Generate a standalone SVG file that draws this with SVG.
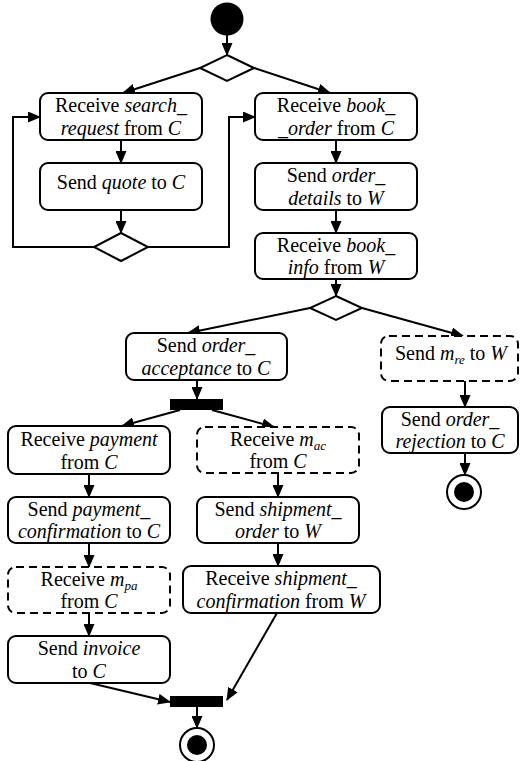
<svg xmlns="http://www.w3.org/2000/svg" width="520" height="761" viewBox="0 0 520 761">
<style>
.box{fill:#fff;stroke:#000;stroke-width:2}
.dash{stroke-dasharray:8,5}
.dec{fill:#fff;stroke:#000;stroke-width:2}
.bar{fill:#000}
.c{fill:none;stroke:#000;stroke-width:2}
.t{font-family:"Liberation Serif","Times New Roman",serif;font-size:20px;fill:#000;text-anchor:middle}
.i{font-style:italic}
.s{font-size:13px;font-style:italic}
</style>
<defs>
<marker id="ah" markerWidth="13" markerHeight="11" refX="12" refY="5.5" orient="auto" markerUnits="userSpaceOnUse">
<path d="M0,0 L13,5.5 L0,11 z" fill="#000"/>
</marker>
</defs>
<rect width="520" height="761" fill="#fff"/>
<g id="connectors">
<line class="c" x1="227" y1="35" x2="227" y2="55" marker-end="url(#ah)"/>
<line class="c" x1="200" y1="68" x2="123" y2="93" marker-end="url(#ah)"/>
<line class="c" x1="254" y1="68" x2="330" y2="93" marker-end="url(#ah)"/>
<line class="c" x1="121" y1="140" x2="121" y2="163" marker-end="url(#ah)"/>
<line class="c" x1="121" y1="210" x2="121" y2="233" marker-end="url(#ah)"/>
<polyline class="c" points="94,247 13,247 13,117 40,117" marker-end="url(#ah)"/>
<polyline class="c" points="148,247 229,247 229,117 255,117" marker-end="url(#ah)"/>
<line class="c" x1="336" y1="140" x2="336" y2="163" marker-end="url(#ah)"/>
<line class="c" x1="336" y1="210" x2="336" y2="233" marker-end="url(#ah)"/>
<line class="c" x1="336" y1="279" x2="336" y2="296" marker-end="url(#ah)"/>
<line class="c" x1="310" y1="308" x2="188" y2="333" marker-end="url(#ah)"/>
<line class="c" x1="362" y1="308" x2="463" y2="336" marker-end="url(#ah)"/>
<line class="c" x1="465" y1="381" x2="465" y2="407" marker-end="url(#ah)"/>
<line class="c" x1="465" y1="453" x2="465" y2="475" marker-end="url(#ah)"/>
<line class="c" x1="197" y1="380" x2="197" y2="399" marker-end="url(#ah)"/>
<line class="c" x1="180" y1="410" x2="122" y2="426" marker-end="url(#ah)"/>
<line class="c" x1="212" y1="410" x2="274" y2="427" marker-end="url(#ah)"/>
<line class="c" x1="89" y1="474" x2="89" y2="497" marker-end="url(#ah)"/>
<line class="c" x1="89" y1="543" x2="89" y2="567" marker-end="url(#ah)"/>
<line class="c" x1="89" y1="613" x2="89" y2="636" marker-end="url(#ah)"/>
<line class="c" x1="278" y1="473" x2="278" y2="497" marker-end="url(#ah)"/>
<line class="c" x1="278" y1="543" x2="278" y2="566" marker-end="url(#ah)"/>
<line class="c" x1="277" y1="613" x2="227" y2="700" marker-end="url(#ah)"/>
<line class="c" x1="90" y1="683" x2="170" y2="702" marker-end="url(#ah)"/>
<line class="c" x1="197" y1="707" x2="197" y2="728" marker-end="url(#ah)"/>
</g>
<g id="start"><circle cx="227" cy="19" r="16.5" fill="#000"/></g>
<g id="dec1"><polygon class="dec" points="227,55 254,68 227,81 200,68"/></g>
<g id="dec2"><polygon class="dec" points="121,233 148,247 121,261 94,247"/></g>
<g id="dec3"><polygon class="dec" points="336,296 362,308 336,320 310,308"/></g>
<g id="fork1"><rect class="bar" x="170" y="399" width="53" height="11"/></g>
<g id="join1"><rect class="bar" x="170" y="696" width="53" height="11"/></g>
<g id="end1"><circle cx="197" cy="745" r="17" fill="#fff" stroke="#000" stroke-width="2"/><circle cx="197" cy="745" r="10" fill="#000"/></g>
<g id="end2"><circle cx="464" cy="492" r="17" fill="#fff" stroke="#000" stroke-width="2"/><circle cx="464" cy="492" r="10" fill="#000"/></g>
<g id="n1"><rect class="box" x="40" y="93" width="162" height="47" rx="8"/>
<text class="t" x="121" y="112">Receive <tspan class="i">search_</tspan></text>
<text class="t" x="121" y="135"><tspan class="i">request</tspan> from <tspan class="i">C</tspan></text></g>
<g id="n2"><rect class="box" x="40" y="163" width="162" height="47" rx="8"/>
<text class="t" x="121" y="189">Send <tspan class="i">quote</tspan> to <tspan class="i">C</tspan></text></g>
<g id="n3"><rect class="box" x="255" y="93" width="162" height="47" rx="8"/>
<text class="t" x="336" y="112">Receive <tspan class="i">book_</tspan></text>
<text class="t" x="336" y="135"><tspan class="i">_order</tspan> from <tspan class="i">C</tspan></text></g>
<g id="n4"><rect class="box" x="255" y="163" width="162" height="47" rx="8"/>
<text class="t" x="336" y="182">Send <tspan class="i">order_</tspan></text>
<text class="t" x="336" y="205"><tspan class="i">details</tspan> to <tspan class="i">W</tspan></text></g>
<g id="n5"><rect class="box" x="255" y="233" width="162" height="46" rx="8"/>
<text class="t" x="336" y="252">Receive <tspan class="i">book_</tspan></text>
<text class="t" x="336" y="274"><tspan class="i">info</tspan> from <tspan class="i">W</tspan></text></g>
<g id="n6"><rect class="box" x="126" y="333" width="161" height="47" rx="8"/>
<text class="t" x="206" y="352">Send <tspan class="i">order_</tspan></text>
<text class="t" x="206" y="375"><tspan class="i">acceptance</tspan> to <tspan class="i">C</tspan></text></g>
<g id="n7"><rect class="box dash" x="381" y="336" width="137" height="45" rx="8"/>
<text class="t" x="451" y="360">Send <tspan class="i">m</tspan><tspan class="s" dy="4">re</tspan><tspan dy="-4"> to </tspan><tspan class="i">W</tspan></text></g>
<g id="n8"><rect class="box" x="382" y="407" width="136" height="46" rx="8"/>
<text class="t" x="450" y="426">Send <tspan class="i">order_</tspan></text>
<text class="t" x="450" y="448"><tspan class="i">rejection</tspan> to <tspan class="i">C</tspan></text></g>
<g id="n9"><rect class="box" x="8" y="426" width="162" height="48" rx="8"/>
<text class="t" x="89" y="446">Receive <tspan class="i">payment</tspan></text>
<text class="t" x="89" y="469">from <tspan class="i">C</tspan></text></g>
<g id="n10"><rect class="box dash" x="197" y="427" width="162" height="46" rx="8"/>
<text class="t" x="278" y="446">Receive <tspan class="i">m</tspan><tspan class="s" dy="4">ac</tspan></text>
<text class="t" x="278" y="468">from <tspan class="i">C</tspan></text></g>
<g id="n11"><rect class="box" x="8" y="497" width="162" height="46" rx="8"/>
<text class="t" x="89" y="516">Send <tspan class="i">payment_</tspan></text>
<text class="t" x="89" y="538"><tspan class="i">confirmation</tspan> to <tspan class="i">C</tspan></text></g>
<g id="n12"><rect class="box" x="197" y="497" width="162" height="46" rx="8"/>
<text class="t" x="278" y="516">Send <tspan class="i">shipment_</tspan></text>
<text class="t" x="278" y="538"><tspan class="i">order</tspan> to <tspan class="i">W</tspan></text></g>
<g id="n13"><rect class="box dash" x="8" y="567" width="162" height="46" rx="8"/>
<text class="t" x="89" y="586">Receive <tspan class="i">m</tspan><tspan class="s" dy="4">pa</tspan></text>
<text class="t" x="89" y="608">from <tspan class="i">C</tspan></text></g>
<g id="n14"><rect class="box" x="183" y="566" width="197" height="47" rx="8"/>
<text class="t" x="281" y="585">Receive <tspan class="i">shipment_</tspan></text>
<text class="t" x="281" y="608"><tspan class="i">confirmation</tspan> from <tspan class="i">W</tspan></text></g>
<g id="n15"><rect class="box" x="8" y="636" width="162" height="47" rx="8"/>
<text class="t" x="89" y="655">Send <tspan class="i">invoice</tspan></text>
<text class="t" x="89" y="678">to <tspan class="i">C</tspan></text></g>
</svg>
